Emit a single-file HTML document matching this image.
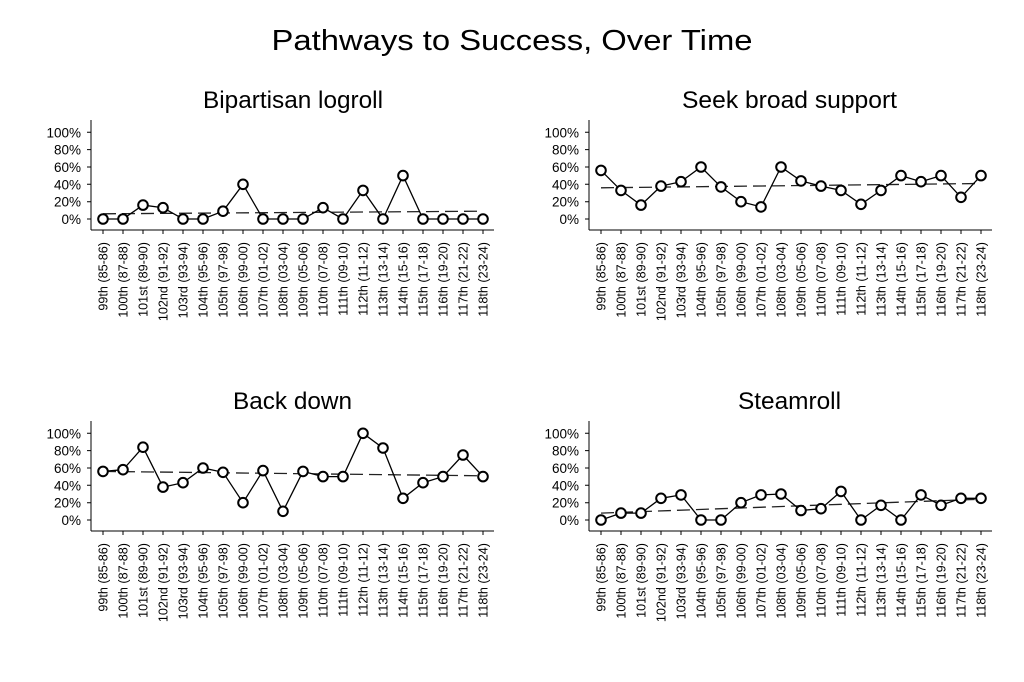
<!DOCTYPE html>
<html><head><meta charset="utf-8"><style>
html,body{margin:0;padding:0;background:#fff;}
svg{display:block;font-family:"Liberation Sans",Arial,sans-serif;}
</style></head><body>
<svg width="1024" height="682" viewBox="0 0 1024 682" xmlns="http://www.w3.org/2000/svg">
<defs>
<marker id="c" markerUnits="userSpaceOnUse" markerWidth="14" markerHeight="14" refX="7" refY="7" viewBox="0 0 14 14">
<circle cx="7" cy="7" r="4.8" fill="#fff" stroke="#000" stroke-width="2"/>
</marker>
<g id="axes">
<line x1="0" y1="-99" x2="0" y2="11" stroke="#000" stroke-width="1"/>
<line x1="0" y1="11" x2="403" y2="11" stroke="#000" stroke-width="1"/>
<path d="M-4 0H0M-4 -17.3H0M-4 -34.7H0M-4 -52H0M-4 -69.4H0M-4 -86.7H0" stroke="#000"/>
<path d="M12 11V15M32 11V15M52 11V15M72 11V15M92 11V15M112 11V15M132 11V15M152 11V15M172 11V15M192 11V15M212 11V15M232 11V15M252 11V15M272 11V15M292 11V15M312 11V15M332 11V15M352 11V15M372 11V15M392 11V15" stroke="#000"/>
</g>
</defs>
<text x="512" y="50" font-size="29" text-anchor="middle" textLength="481" lengthAdjust="spacingAndGlyphs">Pathways to Success, Over Time</text>

<!-- Panel TL -->
<g transform="translate(91,219)">
<use href="#axes"/>
<g font-size="13.5" text-anchor="end"><text x="-10" y="5">0%</text><text x="-10" y="-12.3">20%</text><text x="-10" y="-29.7">40%</text><text x="-10" y="-47">60%</text><text x="-10" y="-64.4">80%</text><text x="-10" y="-81.7">100%</text></g>
<text x="202" y="-111" font-size="24" text-anchor="middle" textLength="180" lengthAdjust="spacingAndGlyphs">Bipartisan logroll</text>
<line x1="12" y1="-5.2" x2="392" y2="-7.8" stroke="#222" stroke-width="1.3" stroke-dasharray="13,6"/>
<polyline fill="none" stroke="#000" stroke-width="1.3" marker-start="url(#c)" marker-mid="url(#c)" marker-end="url(#c)" points="12,0 32,0 52,-13.9 72,-11.3 92,0 112,0 132,-7.8 152,-34.7 172,0 192,0 212,0 232,-11.3 252,0 272,-28.6 292,0 312,-43.4 332,0 352,0 372,0 392,0"/>
<g font-size="12.6" text-anchor="end">
<text transform="translate(16.5,23) rotate(-90)">99th (85-86)</text><text transform="translate(36.5,23) rotate(-90)">100th (87-88)</text><text transform="translate(56.5,23) rotate(-90)">101st (89-90)</text><text transform="translate(76.5,23) rotate(-90)">102nd (91-92)</text><text transform="translate(96.5,23) rotate(-90)">103rd (93-94)</text><text transform="translate(116.5,23) rotate(-90)">104th (95-96)</text><text transform="translate(136.5,23) rotate(-90)">105th (97-98)</text><text transform="translate(156.5,23) rotate(-90)">106th (99-00)</text><text transform="translate(176.5,23) rotate(-90)">107th (01-02)</text><text transform="translate(196.5,23) rotate(-90)">108th (03-04)</text><text transform="translate(216.5,23) rotate(-90)">109th (05-06)</text><text transform="translate(236.5,23) rotate(-90)">110th (07-08)</text><text transform="translate(256.5,23) rotate(-90)">111th (09-10)</text><text transform="translate(276.5,23) rotate(-90)">112th (11-12)</text><text transform="translate(296.5,23) rotate(-90)">113th (13-14)</text><text transform="translate(316.5,23) rotate(-90)">114th (15-16)</text><text transform="translate(336.5,23) rotate(-90)">115th (17-18)</text><text transform="translate(356.5,23) rotate(-90)">116th (19-20)</text><text transform="translate(376.5,23) rotate(-90)">117th (21-22)</text><text transform="translate(396.5,23) rotate(-90)">118th (23-24)</text>
</g>
</g>

<!-- Panel TR -->
<g transform="translate(589,219)">
<use href="#axes"/>
<g font-size="13.5" text-anchor="end"><text x="-10" y="5">0%</text><text x="-10" y="-12.3">20%</text><text x="-10" y="-29.7">40%</text><text x="-10" y="-47">60%</text><text x="-10" y="-64.4">80%</text><text x="-10" y="-81.7">100%</text></g>
<text x="200.5" y="-111" font-size="24" text-anchor="middle" textLength="215" lengthAdjust="spacingAndGlyphs">Seek broad support</text>
<line x1="12" y1="-31.2" x2="392" y2="-35.5" stroke="#222" stroke-width="1.3" stroke-dasharray="13,6"/>
<polyline fill="none" stroke="#000" stroke-width="1.3" marker-start="url(#c)" marker-mid="url(#c)" marker-end="url(#c)" points="12,-48.6 32,-28.6 52,-13.9 72,-32.9 92,-37.3 112,-52 132,-32.1 152,-17.3 172,-12.1 192,-52 212,-38.1 232,-32.9 252,-28.6 272,-14.7 292,-28.6 312,-43.4 332,-37.3 352,-43.4 372,-21.7 392,-43.4"/>
<g font-size="12.6" text-anchor="end">
<text transform="translate(16.5,23) rotate(-90)">99th (85-86)</text><text transform="translate(36.5,23) rotate(-90)">100th (87-88)</text><text transform="translate(56.5,23) rotate(-90)">101st (89-90)</text><text transform="translate(76.5,23) rotate(-90)">102nd (91-92)</text><text transform="translate(96.5,23) rotate(-90)">103rd (93-94)</text><text transform="translate(116.5,23) rotate(-90)">104th (95-96)</text><text transform="translate(136.5,23) rotate(-90)">105th (97-98)</text><text transform="translate(156.5,23) rotate(-90)">106th (99-00)</text><text transform="translate(176.5,23) rotate(-90)">107th (01-02)</text><text transform="translate(196.5,23) rotate(-90)">108th (03-04)</text><text transform="translate(216.5,23) rotate(-90)">109th (05-06)</text><text transform="translate(236.5,23) rotate(-90)">110th (07-08)</text><text transform="translate(256.5,23) rotate(-90)">111th (09-10)</text><text transform="translate(276.5,23) rotate(-90)">112th (11-12)</text><text transform="translate(296.5,23) rotate(-90)">113th (13-14)</text><text transform="translate(316.5,23) rotate(-90)">114th (15-16)</text><text transform="translate(336.5,23) rotate(-90)">115th (17-18)</text><text transform="translate(356.5,23) rotate(-90)">116th (19-20)</text><text transform="translate(376.5,23) rotate(-90)">117th (21-22)</text><text transform="translate(396.5,23) rotate(-90)">118th (23-24)</text>
</g>
</g>

<!-- Panel BL -->
<g transform="translate(91,520)">
<use href="#axes"/>
<g font-size="13.5" text-anchor="end"><text x="-10" y="5">0%</text><text x="-10" y="-12.3">20%</text><text x="-10" y="-29.7">40%</text><text x="-10" y="-47">60%</text><text x="-10" y="-64.4">80%</text><text x="-10" y="-81.7">100%</text></g>
<text x="201.5" y="-111" font-size="24" text-anchor="middle" textLength="119" lengthAdjust="spacingAndGlyphs">Back down</text>
<line x1="12" y1="-48.6" x2="392" y2="-44.2" stroke="#222" stroke-width="1.3" stroke-dasharray="13,6"/>
<polyline fill="none" stroke="#000" stroke-width="1.3" marker-start="url(#c)" marker-mid="url(#c)" marker-end="url(#c)" points="12,-48.6 32,-50.3 52,-72.8 72,-32.9 92,-37.3 112,-52 132,-47.7 152,-17.3 172,-49.4 192,-8.7 212,-48.6 232,-43.4 252,-43.4 272,-86.7 292,-72 312,-21.7 332,-37.3 352,-43.4 372,-65 392,-43.4"/>
<g font-size="12.6" text-anchor="end">
<text transform="translate(16.5,23) rotate(-90)">99th (85-86)</text><text transform="translate(36.5,23) rotate(-90)">100th (87-88)</text><text transform="translate(56.5,23) rotate(-90)">101st (89-90)</text><text transform="translate(76.5,23) rotate(-90)">102nd (91-92)</text><text transform="translate(96.5,23) rotate(-90)">103rd (93-94)</text><text transform="translate(116.5,23) rotate(-90)">104th (95-96)</text><text transform="translate(136.5,23) rotate(-90)">105th (97-98)</text><text transform="translate(156.5,23) rotate(-90)">106th (99-00)</text><text transform="translate(176.5,23) rotate(-90)">107th (01-02)</text><text transform="translate(196.5,23) rotate(-90)">108th (03-04)</text><text transform="translate(216.5,23) rotate(-90)">109th (05-06)</text><text transform="translate(236.5,23) rotate(-90)">110th (07-08)</text><text transform="translate(256.5,23) rotate(-90)">111th (09-10)</text><text transform="translate(276.5,23) rotate(-90)">112th (11-12)</text><text transform="translate(296.5,23) rotate(-90)">113th (13-14)</text><text transform="translate(316.5,23) rotate(-90)">114th (15-16)</text><text transform="translate(336.5,23) rotate(-90)">115th (17-18)</text><text transform="translate(356.5,23) rotate(-90)">116th (19-20)</text><text transform="translate(376.5,23) rotate(-90)">117th (21-22)</text><text transform="translate(396.5,23) rotate(-90)">118th (23-24)</text>
</g>
</g>

<!-- Panel BR -->
<g transform="translate(589,520)">
<use href="#axes"/>
<g font-size="13.5" text-anchor="end"><text x="-10" y="5">0%</text><text x="-10" y="-12.3">20%</text><text x="-10" y="-29.7">40%</text><text x="-10" y="-47">60%</text><text x="-10" y="-64.4">80%</text><text x="-10" y="-81.7">100%</text></g>
<text x="200.5" y="-111" font-size="24" text-anchor="middle" textLength="103" lengthAdjust="spacingAndGlyphs">Steamroll</text>
<line x1="12" y1="-6.9" x2="392" y2="-20.8" stroke="#222" stroke-width="1.3" stroke-dasharray="13,6"/>
<polyline fill="none" stroke="#000" stroke-width="1.3" marker-start="url(#c)" marker-mid="url(#c)" marker-end="url(#c)" points="12,0 32,-6.9 52,-6.9 72,-21.7 92,-25.1 112,0 132,0 152,-17.3 172,-25.1 192,-26 212,-9.5 232,-11.3 252,-28.6 272,0 292,-14.7 312,0 332,-25.1 352,-14.7 372,-21.7 392,-21.7"/>
<g font-size="12.6" text-anchor="end">
<text transform="translate(16.5,23) rotate(-90)">99th (85-86)</text><text transform="translate(36.5,23) rotate(-90)">100th (87-88)</text><text transform="translate(56.5,23) rotate(-90)">101st (89-90)</text><text transform="translate(76.5,23) rotate(-90)">102nd (91-92)</text><text transform="translate(96.5,23) rotate(-90)">103rd (93-94)</text><text transform="translate(116.5,23) rotate(-90)">104th (95-96)</text><text transform="translate(136.5,23) rotate(-90)">105th (97-98)</text><text transform="translate(156.5,23) rotate(-90)">106th (99-00)</text><text transform="translate(176.5,23) rotate(-90)">107th (01-02)</text><text transform="translate(196.5,23) rotate(-90)">108th (03-04)</text><text transform="translate(216.5,23) rotate(-90)">109th (05-06)</text><text transform="translate(236.5,23) rotate(-90)">110th (07-08)</text><text transform="translate(256.5,23) rotate(-90)">111th (09-10)</text><text transform="translate(276.5,23) rotate(-90)">112th (11-12)</text><text transform="translate(296.5,23) rotate(-90)">113th (13-14)</text><text transform="translate(316.5,23) rotate(-90)">114th (15-16)</text><text transform="translate(336.5,23) rotate(-90)">115th (17-18)</text><text transform="translate(356.5,23) rotate(-90)">116th (19-20)</text><text transform="translate(376.5,23) rotate(-90)">117th (21-22)</text><text transform="translate(396.5,23) rotate(-90)">118th (23-24)</text>
</g>
</g>
</svg>
</body></html>
